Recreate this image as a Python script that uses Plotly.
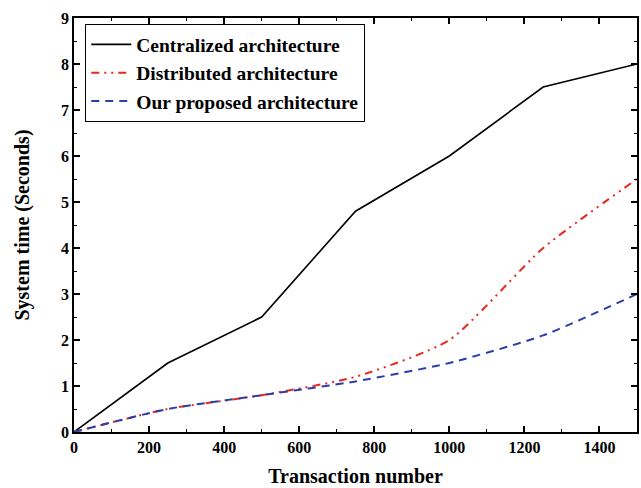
import plotly.graph_objects as go

x_vals = [0, 250, 500, 750, 1000, 1250, 1500]
centralized = [0, 1.5, 2.5, 4.8, 6.0, 7.5, 8.0]
distributed = [0, 0.5, 0.8, 1.2, 2.0, 4.0, 5.5]
proposed = [0, 0.5, 0.8, 1.1, 1.5, 2.1, 3.0]

font_family = "Liberation Serif"

fig = go.Figure()
fig.add_trace(go.Scatter(x=x_vals, y=centralized, mode="lines",
                         name="<b>Centralized architecture</b>",
                         line=dict(color="black", width=1.6)))
fig.add_trace(go.Scatter(x=x_vals, y=distributed, mode="lines",
                         name="<b>Distributed architecture</b>",
                         line=dict(color="#e8281e", width=2, dash="8px,5px,2px,5px,2px,5px",
                                   shape="spline", smoothing=0.6)))
fig.add_trace(go.Scatter(x=x_vals, y=proposed, mode="lines",
                         name="<b>Our proposed architecture</b>",
                         line=dict(color="#2b3ea8", width=2, dash="8px,6px",
                                   shape="spline", smoothing=0.6)))

axis_common = dict(
    showline=True, linecolor="black", linewidth=1.5, mirror="allticks",
    ticks="inside", ticklen=6, tickwidth=1.5, tickcolor="black",
    showgrid=False, zeroline=False,
    tickfont=dict(family=font_family, size=16, color="black"),
)

fig.update_xaxes(range=[0, 1500], tickvals=[0, 200, 400, 600, 800, 1000, 1200, 1400],
                 ticktext=["<b>%d</b>" % v for v in [0, 200, 400, 600, 800, 1000, 1200, 1400]],
                 minor=dict(dtick=100, ticks="inside", ticklen=3, tickwidth=1, tickcolor="black"),
                 title=dict(text="<b>Transaction number</b>", font=dict(family=font_family, size=20, color="black"), standoff=14),
                 **axis_common)
fig.update_yaxes(range=[0, 9], tickvals=list(range(10)),
                 ticktext=["<b>%d</b>" % v for v in range(10)],
                 minor=dict(dtick=0.5, ticks="inside", ticklen=3, tickwidth=1, tickcolor="black"),
                 title=dict(text="<b>System time (Seconds)</b>", font=dict(family=font_family, size=20, color="black"), standoff=26),
                 **axis_common)

fig.update_layout(
    width=641, height=488,
    margin=dict(l=74, r=2, t=18, b=56),
    plot_bgcolor="white", paper_bgcolor="white",
    legend=dict(x=0.02, y=0.985, xanchor="left", yanchor="top",
                bordercolor="black", borderwidth=1, bgcolor="white",
                font=dict(family=font_family, size=19.5, color="black"),
                tracegroupgap=0, itemwidth=40),
    font=dict(family=font_family),
)

fig.write_html("out.html")
